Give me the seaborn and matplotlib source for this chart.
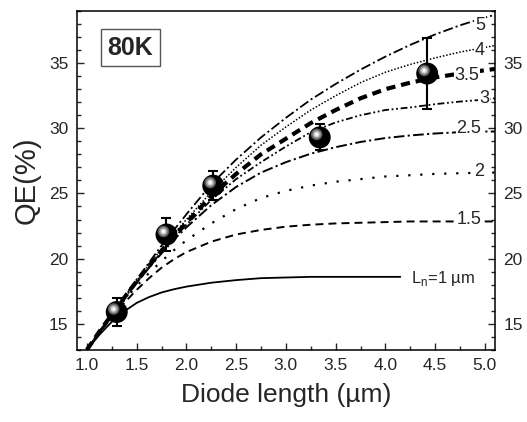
"""
qe_vs_diode_length.py

Quantum efficiency versus diode length at 80 K, with model curves
for several diffusion lengths L_n and the measured points.
"""

from __future__ import annotations

import matplotlib

matplotlib.use("Agg")

import matplotlib.pyplot as plt
import matplotlib.transforms as mtransforms
import pandas as pd
import seaborn as sns

# diode length grid (um) of the model curves
length = [1.0, 1.125, 1.25, 1.375, 1.5, 1.625, 1.75, 1.875, 2.0, 2.25, 2.5,
          2.75, 3.0, 3.25, 3.5, 3.75, 4.0, 4.25, 4.5, 4.75, 5.0, 5.1]
length_ln1 = [1.0, 1.125, 1.25, 1.375, 1.5, 1.625, 1.75, 1.875, 2.0, 2.25,
              2.5, 2.75, 3.0, 3.25, 3.5, 3.75, 4.0, 4.15]

# model QE (%) for each diffusion length
qe_ln1 = [13.0, 14.15, 15.15, 15.95, 16.6, 17.05, 17.4, 17.65, 17.85, 18.15,
          18.35, 18.5, 18.55, 18.6, 18.6, 18.6, 18.6, 18.6]
qe_ln15 = [13.0, 14.3, 15.5, 16.6, 17.6, 18.5, 19.3, 19.95, 20.5, 21.3, 21.85,
           22.2, 22.45, 22.6, 22.7, 22.75, 22.8, 22.85, 22.85, 22.85, 22.85, 22.85]
qe_ln2 = [13.0, 14.35, 15.6, 16.8, 17.9, 18.9, 19.8, 20.65, 21.4, 22.7, 23.8,
          24.65, 25.2, 25.6, 25.9, 26.1, 26.3, 26.4, 26.5, 26.55, 26.6, 26.6]
qe_ln25 = [13.0, 14.35, 15.65, 16.9, 18.15, 19.3, 20.4, 21.45, 22.4, 24.1, 25.5,
           26.6, 27.4, 28.05, 28.55, 28.95, 29.25, 29.45, 29.6, 29.7, 29.75, 29.75]
qe_ln3 = [13.0, 14.4, 15.7, 16.95, 18.2, 19.38, 20.5, 21.6, 22.6, 24.5, 26.1,
          27.4, 28.6, 29.7, 30.45, 31.0, 31.4, 31.6, 31.85, 32.05, 32.2, 32.3]
qe_ln35 = [13.0, 14.4, 15.7, 17.0, 18.25, 19.45, 20.6, 21.7, 22.75, 24.8, 26.5,
           28.0, 29.2, 30.4, 31.4, 32.3, 33.0, 33.5, 33.9, 34.2, 34.45, 34.55]
qe_ln4 = [13.0, 14.4, 15.75, 17.05, 18.3, 19.55, 20.75, 21.9, 23.0, 25.1, 27.0,
          28.7, 30.1, 31.4, 32.5, 33.5, 34.3, 34.9, 35.4, 35.85, 36.2, 36.35]
qe_ln5 = [13.0, 14.4, 15.75, 17.1, 18.4, 19.7, 21.0, 22.2, 23.4, 25.7, 27.6,
          29.3, 30.8, 32.2, 33.4, 34.5, 35.5, 36.4, 37.2, 37.9, 38.5, 38.7]

curve_names = ["1", "1.5", "2", "2.5", "3", "3.5", "4", "5"]
curve_labels = ["L$_{\\rm n}$=1 \u00b5m", "1.5", "2", "2.5", "3", "3.5", "4", "5"]

# measured points
meas_length = [1.30, 1.80, 2.27, 3.34, 4.42]
meas_qe = [15.9, 21.85, 25.6, 29.3, 34.2]
meas_err = [1.1, 1.3, 1.1, 1.0, 2.7]

# line style per curve (linewidth, dash pattern)
STYLES = {
    "1": dict(lw=1.3, ls="-"),
    "1.5": dict(lw=1.4, ls=(0, (4.1, 2.6))),
    "2": dict(lw=1.6, ls=(0, (1, 4.4))),
    "2.5": dict(lw=1.4, ls=(0, (5.5, 1.7, 1.1, 1.7))),
    "3": dict(lw=1.3, ls=(0, (3.8, 1.5, 1, 1.5, 1, 1.5))),
    "3.5": dict(lw=3.0, ls=(0, (2.2, 1.4))),
    "4": dict(lw=1.1, ls=(0, (1, 1.2))),
    "5": dict(lw=1.3, ls=(0, (5.5, 1.7, 1.1, 1.7))),
}
# label anchor (x, y, ha, fontsize) per curve
LABEL_POS = {
    "1": (4.26, 18.5, "left", 12),
    "1.5": (4.84, 23.0, "center", 13),
    "2": (4.94, 26.7, "center", 13),
    "2.5": (4.84, 30.0, "center", 13),
    "3": (4.99, 32.3, "center", 13),
    "3.5": (4.82, 34.05, "center", 13),
    "4": (4.95, 36.0, "center", 13),
    "5": (4.95, 37.9, "center", 13),
}


def build_curves() -> pd.DataFrame:
    series = [qe_ln1, qe_ln15, qe_ln2, qe_ln25, qe_ln3, qe_ln35, qe_ln4, qe_ln5]
    frames = []
    for name, qe in zip(curve_names, series):
        x = length_ln1 if name == "1" else length
        frames.append(pd.DataFrame({"length": x, "qe": qe, "Ln": name}))
    return pd.concat(frames, ignore_index=True)


def main() -> None:
    sns.set_style("ticks")
    plt.rcParams["font.family"] = ["Liberation Sans", "DejaVu Sans"]
    plt.rcParams["mathtext.fontset"] = "custom"
    plt.rcParams["mathtext.rm"] = "Liberation Sans"

    fig = plt.figure(figsize=(5.27, 4.22), dpi=100)
    ax = fig.add_axes([0.146, 0.171, 0.793, 0.803])

    curves = build_curves()
    for name in curve_names:
        sub = curves[curves["Ln"] == name]
        st = STYLES[name]
        sns.lineplot(data=sub, x="length", y="qe", ax=ax, color="black",
                     linewidth=st["lw"], linestyle=st["ls"], legend=False,
                     zorder=2)

    for name, text in zip(curve_names, curve_labels):
        x, y, ha, fs = LABEL_POS[name]
        ax.text(x, y, text, ha=ha, va="center", fontsize=fs, zorder=3,
                bbox=dict(facecolor="white", edgecolor="none", pad=0.6))

    ax.errorbar(meas_length, meas_qe, yerr=meas_err, fmt="none",
                ecolor="black", elinewidth=1.5, capsize=3.6, capthick=1.5,
                zorder=4)
    sns.scatterplot(x=meas_length, y=meas_qe, ax=ax, s=250, color="black",
                    edgecolor="none", zorder=5)
    # glossy highlight of the sphere markers
    shift = mtransforms.offset_copy(ax.transData, fig=fig, x=-2.2, y=2.2,
                                    units="points")
    for size, shade in [(70, "#5a5a5a"), (38, "#9a9a9a"), (16, "#d8d8d8"),
                        (4, "white")]:
        ax.scatter(meas_length, meas_qe, s=size, color=shade, edgecolor="none",
                   transform=shift, zorder=6)

    ax.text(0.128, 0.892, "80K", transform=ax.transAxes, ha="center",
            va="center", fontsize=18, fontweight="bold", zorder=7,
            bbox=dict(boxstyle="square,pad=0.25", facecolor="white",
                      edgecolor="#555555", linewidth=1.0))

    ax.set_xlim(0.9, 5.1)
    ax.set_ylim(13, 39)
    ax.set_xticks([1.0, 1.5, 2.0, 2.5, 3.0, 3.5, 4.0, 4.5, 5.0])
    ax.set_xticks([1.25 + 0.5 * i for i in range(8)], minor=True)
    ax.set_yticks([15, 20, 25, 30, 35])
    ax.set_yticks([v for v in range(13, 40) if v % 5], minor=True)
    ax.xaxis.set_major_formatter(plt.FormatStrFormatter("%.1f"))

    ax.tick_params(axis="both", which="both", direction="in",
                   labelsize=12.5, width=1.0, pad=6)
    ax.tick_params(axis="both", which="major", length=5)
    ax.tick_params(axis="both", which="minor", length=3)
    ax.tick_params(axis="y", which="both", left=True, right=True,
                   labelleft=True, labelright=True)
    ax.tick_params(axis="x", which="both", top=False)
    for spine in ax.spines.values():
        spine.set_visible(True)
        spine.set_linewidth(1.1)
        spine.set_color("black")

    ax.set_xlabel("Diode length (\u00b5m)", fontsize=19, labelpad=7)
    ax.set_ylabel("QE(%)", fontsize=21, labelpad=6)

    fig.savefig("out.png", dpi=100)


if __name__ == "__main__":
    main()
